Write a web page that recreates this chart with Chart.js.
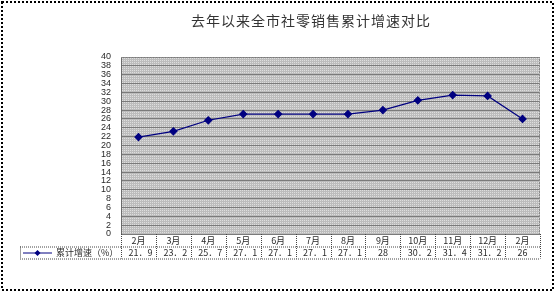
<!DOCTYPE html>
<html>
<head>
<meta charset="utf-8">
<script src="https://cdn.jsdelivr.net/npm/chart.js@4/dist/chart.umd.min.js"></script>
<style>
  html, body { margin: 0; padding: 0; background: #fff; }
  #wrap { width: 555px; height: 294px; position: relative; }
</style>
</head>
<body>
<div id="wrap"><canvas id="c" width="555" height="294"></canvas></div>
<script>
// chart data
const title      = "去年以来全市社零销售累计增速对比";
const months     = ["2月", "3月", "4月", "5月", "6月", "7月", "8月", "9月", "10月", "11月", "12月", "2月"];
const seriesName = "累计增速（%）";
const growth     = [21.9, 23.2, 25.7, 27.1, 27.1, 27.1, 27.1, 28, 30.2, 31.4, 31.2, 26];

const NAVY  = "#000080";
const TEXT  = "#2a2a2a";
const CJK   = "'Noto Sans CJK SC', 'Liberation Sans', sans-serif";

// Excel-ish dotted gray fill for the plot area
function makePattern(ctx) {
  const p = document.createElement("canvas");
  p.width = 2; p.height = 2;
  const g = p.getContext("2d");
  g.fillStyle = "#bcbcbc"; g.fillRect(0, 0, 2, 2);
  g.fillStyle = "#dedede"; g.fillRect(0, 0, 1, 1);
  return ctx.createPattern(p, "repeat");
}

const plotBg = {
  id: "plotBg",
  beforeDraw(chart) {
    const { ctx, chartArea: a } = chart;
    ctx.save();
    ctx.fillStyle = makePattern(ctx);
    ctx.fillRect(a.left, a.top, a.right - a.left, a.bottom - a.top);
    ctx.restore();
  },
};

// title, data table and outer frame
const extras = {
  id: "extras",
  afterDraw(chart) {
    const { ctx, chartArea: a } = chart;
    const x = chart.scales.x;
    const row1 = a.bottom + 12.5;
    const row2 = row1 + 12;
    const step = (a.right - a.left) / months.length;

    ctx.save();

    // title
    ctx.fillStyle = "#333";
    ctx.font = "14px " + CJK;
    ctx.letterSpacing = "1px";
    ctx.textAlign = "center";
    ctx.textBaseline = "middle";
    ctx.fillText(title, 311, 21);
    ctx.letterSpacing = "0px";

    // plot border (top / right dotted)
    ctx.strokeStyle = "#8a8a8a";
    ctx.lineWidth = 1;
    ctx.setLineDash([2, 1]);
    ctx.beginPath();
    ctx.moveTo(a.left, a.top + 0.5);
    ctx.lineTo(a.right - 0.5, a.top + 0.5);
    ctx.lineTo(a.right - 0.5, a.bottom);
    ctx.stroke();

    // table grid
    ctx.strokeStyle = "#444";
    ctx.setLineDash([1, 1]);
    ctx.beginPath();
    for (let i = 0; i <= months.length; i++) {
      const px = Math.round(a.left + i * step) + 0.5;
      ctx.moveTo(px, a.bottom);
      ctx.lineTo(px, row2);
    }
    ctx.moveTo(a.left, row1 + 0.5);
    ctx.lineTo(a.right, row1 + 0.5);
    ctx.moveTo(20, row2 + 0.5);
    ctx.lineTo(a.right, row2 + 0.5);
    // legend cell
    ctx.moveTo(20.5, row1);
    ctx.lineTo(20.5, row2);
    ctx.moveTo(20, row1 + 0.5);
    ctx.lineTo(a.left, row1 + 0.5);
    ctx.stroke();
    ctx.setLineDash([]);

    // legend key
    const ly = row1 + 6.5;
    ctx.strokeStyle = NAVY;
    ctx.lineWidth = 1;
    ctx.beginPath();
    ctx.moveTo(23, ly);
    ctx.lineTo(52, ly);
    ctx.stroke();
    ctx.fillStyle = NAVY;
    ctx.beginPath();
    ctx.moveTo(37.5, ly - 3); ctx.lineTo(40.5, ly); ctx.lineTo(37.5, ly + 3); ctx.lineTo(34.5, ly);
    ctx.closePath();
    ctx.fill();

    ctx.fillStyle = TEXT;
    ctx.font = "9px " + CJK;
    ctx.textAlign = "left";
    ctx.textBaseline = "middle";
    ctx.fillText(seriesName, 56, ly);

    // values row
    ctx.textAlign = "center";
    growth.forEach((v, i) => {
      const txt = String(v).replace(".", "．");
      ctx.fillText(txt, x.getPixelForValue(i) + (txt.includes("．") ? 2 : 0), ly);
    });

    // outer frame
    ctx.strokeStyle = "#000";
    ctx.lineWidth = 2;
    ctx.setLineDash([2, 2]);
    ctx.strokeRect(2, 2, 551, 288);
    ctx.restore();
  },
};

new Chart(document.getElementById("c"), {
  type: "line",
  data: {
    labels: months,
    datasets: [{
      label: seriesName,
      data: growth,
      borderColor: NAVY,
      backgroundColor: NAVY,
      borderWidth: 1.2,
      pointStyle: "rectRot",
      pointRadius: 3.5,
      pointHoverRadius: 3.5,
      tension: 0,
    }],
  },
  options: {
    responsive: false,
    animation: false,
    events: [],
    layout: { padding: { top: 57, right: 15, left: 0, bottom: 0 } },
    plugins: {
      legend: { display: false },
      title:  { display: false },
      tooltip: { enabled: false },
    },
    scales: {
      x: {
        offset: true,
        grid: { display: false, drawTicks: false },
        border: { display: false },
        ticks: {
          color: TEXT,
          font: { size: 9, family: CJK },
          padding: 1,
          maxRotation: 0,
          autoSkip: false,
        },
        afterFit(s) { s.height = 60; },
      },
      y: {
        min: 0,
        max: 40,
        grid: { color: "#7a7a7a", lineWidth: 1, drawTicks: false },
        border: { display: true, color: "#6a6a6a", width: 1 },
        ticks: {
          stepSize: 2,
          autoSkip: false,
          color: TEXT,
          font: { size: 9, family: "'Liberation Sans', sans-serif" },
          padding: 10,
        },
        afterFit(s) { s.width = 121; },
      },
    },
  },
  plugins: [plotBg, extras],
});
</script>
</body>
</html>
